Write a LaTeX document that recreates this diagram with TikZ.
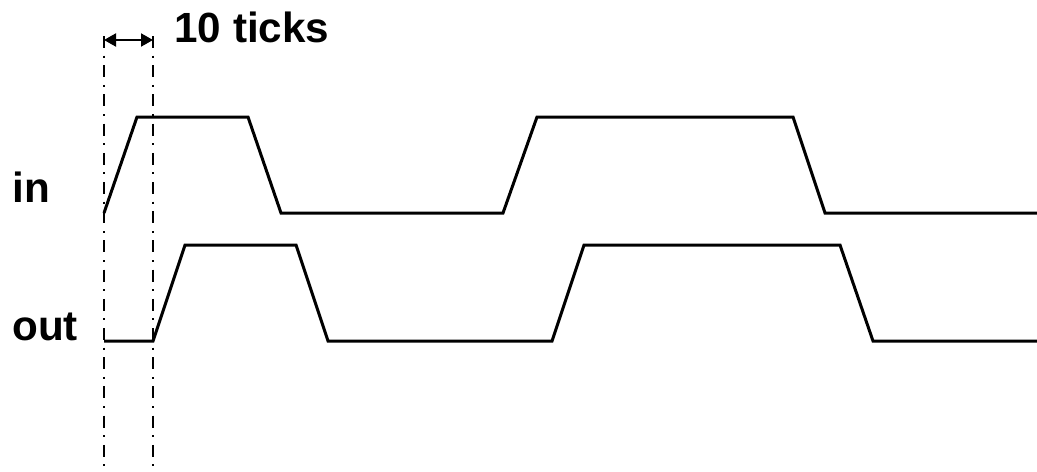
\documentclass[tikz,border=0pt]{standalone}
\usepackage{fontspec}
\setmainfont{Liberation Sans}
\usetikzlibrary{positioning, arrows.meta}

\begin{document}
\begin{tikzpicture}[x=0.5pt, y=-0.5pt,
    wave/.style={line width=1.5pt},
    tickline/.style={line width=1.1pt, dash pattern=on 6pt off 3.8pt on 1pt off 3.8pt},
    lbl/.style={anchor=base west, inner sep=0pt, font=\fontsize{21.1}{24}\selectfont\bfseries}]
      \useasboundingbox (0, 0) rectangle (1037, 471);

      % tick markers
      \coordinate (t1top) at (104, 36);
      \coordinate (t1bot) at (104, 471);
      \coordinate (t2top) at (153, 36);
      \coordinate (t2bot) at (153, 471);
      \draw[tickline] (t1top) -- (t1bot);
      \draw[tickline] (t2top) -- (t2bot);
      \draw[{Triangle[length=6pt, width=6.5pt]}-{Triangle[length=6pt, width=6.5pt]}, line width=1pt]
        (104, 40) -- (153, 40);

      \node[lbl] (ticks) at (174, 42) {10 ticks};
      \node[lbl] (in) at (12, 202) {in};
      \node[lbl] (out) at (12, 340) {out};

      % waveforms
      \draw[wave] (104, 213) -- (137, 117) -- (248, 117) -- (281, 213) -- (503, 213)
        -- (537, 117) -- (793, 117) -- (825, 213) -- (1037, 213);
      \draw[wave] (104, 341) -- (153, 341) -- (185, 245) -- (296, 245) -- (328, 341)
        -- (552, 341) -- (584, 245) -- (840, 245) -- (873, 341) -- (1037, 341);
    \end{tikzpicture}
\end{document}
